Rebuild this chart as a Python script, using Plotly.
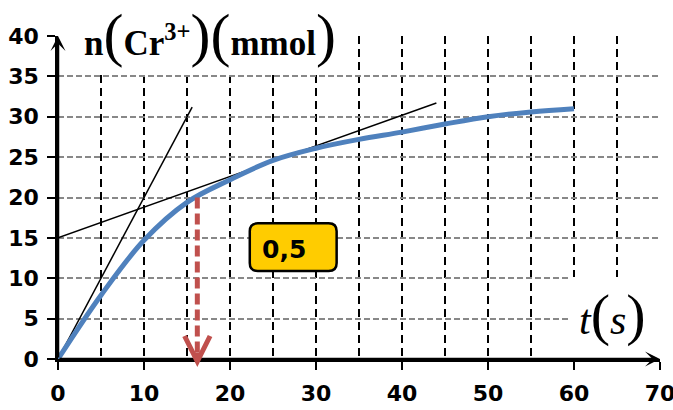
import plotly.graph_objects as go

# ---- data ----
t_s = [0, 5, 10, 15, 20, 25, 30, 35, 40, 45, 50, 55, 60]
n_mmol = [0, 7.9, 14.7, 19.4, 22.2, 24.6, 26.1, 27.2, 28.1, 29.1, 30.0, 30.6, 31.0]

tan1_t = [0, 15.6]
tan1_n = [0, 31.2]
tan2_t = [0, 44]
tan2_n = [15, 31.7]

half_t = 16.2          # t at half of final amount
half_n = 20            # n at that time
half_label = "0,5"

x_ticks = [0, 10, 20, 30, 40, 50, 60, 70]
y_ticks = [0, 5, 10, 15, 20, 25, 30, 35, 40]

XMAX, YMAX = 70, 40
RED = "#C0504D"
BLUE = "#4F81BD"

# plot-area geometry in pixels (used to place paper-referenced boxes)
L, T, W, H = 58, 36, 602, 323


def px(x):
    return (x - L) / W


def py(y):
    return (T + H - y) / H


fig = go.Figure()

fig.add_trace(go.Scatter(x=tan1_t, y=tan1_n, mode="lines",
                         line=dict(color="black", width=1.5), hoverinfo="skip"))
fig.add_trace(go.Scatter(x=tan2_t, y=tan2_n, mode="lines",
                         line=dict(color="black", width=1.5), hoverinfo="skip"))
fig.add_trace(go.Scatter(x=t_s, y=n_mmol, mode="lines",
                         line=dict(color=BLUE, width=5, shape="spline", smoothing=1.0)))
# dashed red drop line
fig.add_trace(go.Scatter(x=[half_t, half_t], y=[half_n, 0], mode="lines",
                         line=dict(color=RED, width=5, dash="11px,5px"), hoverinfo="skip"))

tickfont = dict(family="DejaVu Sans", size=22, color="black", weight="bold")
fig.update_layout(
    width=673, height=410,
    margin=dict(l=L, r=673 - L - W, t=T, b=410 - T - H),
    paper_bgcolor="white", plot_bgcolor="white",
    showlegend=False,
    xaxis=dict(range=[0, XMAX], tickvals=x_ticks, ticktext=[str(v) for v in x_ticks],
               showgrid=True, gridcolor="black", gridwidth=2, griddash="8px,5px",
               minor=dict(dtick=5, showgrid=True, gridcolor="black", gridwidth=2,
                          griddash="8px,5px", ticks=""),
               ticks="outside", ticklen=8, tickwidth=2, tickcolor="black",
               showline=True, linecolor="black", linewidth=2.5,
               zeroline=False, ticklabelstandoff=5, automargin=False,
               ticklabeloverflow="allow", tickfont=tickfont),
    yaxis=dict(range=[0, YMAX], tickvals=y_ticks, ticktext=[str(v) for v in y_ticks],
               showgrid=True, gridcolor="#888888", gridwidth=2, griddash="6px,3px",
               ticks="outside", ticklen=8, tickwidth=2, tickcolor="black",
               showline=True, linecolor="black", linewidth=2.5,
               zeroline=False, ticklabelstandoff=4, automargin=False,
               ticklabeloverflow="allow", tickfont=tickfont),
)

# white boxes behind the axis titles
fig.add_shape(type="rect", xref="paper", yref="paper",
              x0=px(82), x1=px(337), y0=py(75), y1=py(2),
              fillcolor="white", line=dict(width=0), layer="above")
fig.add_shape(type="rect", xref="paper", yref="paper",
              x0=px(568), x1=px(658), y0=py(356), y1=py(277),
              fillcolor="white", line=dict(width=0), layer="above")

# rounded yellow box for the label
x0, x1, y0, y1 = 22.3, 32.4, 10.9, 16.8
rx, ry = 0.93, 0.99
path = (f"M{x0+rx},{y0} L{x1-rx},{y0} Q{x1},{y0} {x1},{y0+ry} L{x1},{y1-ry} "
        f"Q{x1},{y1} {x1-rx},{y1} L{x0+rx},{y1} Q{x0},{y1} {x0},{y1-ry} "
        f"L{x0},{y0+ry} Q{x0},{y0} {x0+rx},{y0} Z")
fig.add_shape(type="path", path=path, xref="x", yref="y",
              fillcolor="#FFCC00", line=dict(color="black", width=2.5), layer="above")

fig.add_annotation(x=26.3, y=13.5, xref="x", yref="y", text=f"<b>{half_label}</b>",
                   showarrow=False, xanchor="center", yanchor="middle",
                   font=dict(family="DejaVu Sans", size=25, color="black"))

# axis arrows
fig.add_annotation(x=0, y=YMAX, ax=0, ay=0, xref="x", yref="y", axref="x", ayref="y",
                   showarrow=True, arrowhead=3, arrowwidth=2.5, arrowsize=1,
                   arrowcolor="black", text="")
fig.add_annotation(x=XMAX, y=0, ax=0, ay=0, xref="x", yref="y", axref="x", ayref="y",
                   showarrow=True, arrowhead=3, arrowwidth=2.5, arrowsize=1,
                   arrowcolor="black", text="")

# red chevron head (tip slightly below the axis)
fig.add_annotation(x=half_t, y=0, xref="x", yref="y", ax=0, ay=-16, yshift=-8,
                   showarrow=True, arrowhead=5, arrowwidth=5, arrowsize=1.0,
                   arrowcolor=RED, text="")

# axis titles
P = "<span style='font-size:60px;font-weight:normal'>{}</span>"
ytitle = ("<b>n</b>" + P.format("(") + "<b>Cr<sup>3+</sup></b>" + P.format(")")
          + P.format("(") + "<b>mmol</b>" + P.format(")"))
fig.add_annotation(xref="paper", yref="paper", x=px(209.5), y=py(35),
                   xanchor="center", yanchor="middle",
                   showarrow=False, text=ytitle,
                   font=dict(family="Liberation Serif", size=35, color="black"))

Q = "<span style='font-size:58px'>{}</span>"
xtitle = "<i>t</i>" + Q.format("(") + "<i>s</i>" + Q.format(")")
fig.add_annotation(xref="paper", yref="paper", x=px(612), y=py(314),
                   xanchor="center", yanchor="middle",
                   showarrow=False, text=xtitle,
                   font=dict(family="Liberation Serif", size=42, color="black"))

fig.write_html("out.html", config={"displayModeBar": False},
               post_script="document.body.style.margin='0px';document.body.style.overflow='hidden';")
